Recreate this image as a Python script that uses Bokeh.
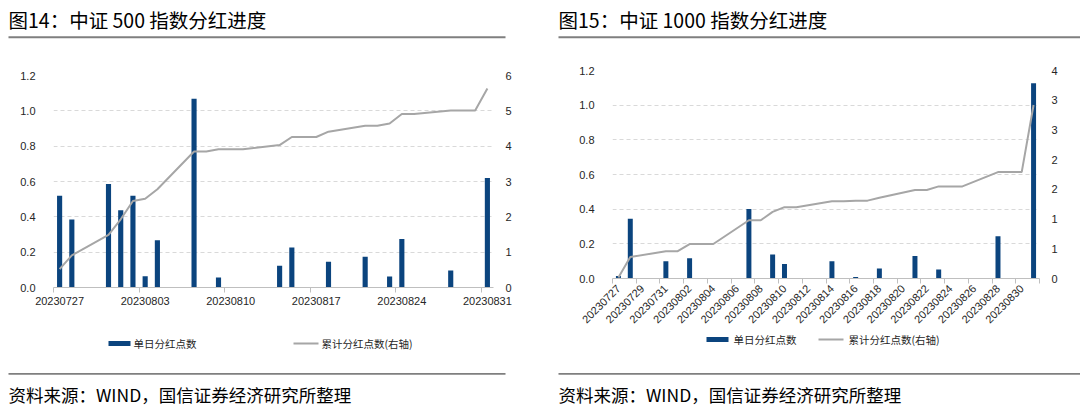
from bokeh.plotting import figure
from bokeh.models import Range1d, LinearAxis, FixedTicker, NumeralTickFormatter
from bokeh.layouts import row, column
from bokeh.core.properties import value
from bokeh.embed import file_html
from bokeh.resources import INLINE
import math

# ---------------- data ----------------
dates = ["20230727", "20230728", "20230729", "20230730", "20230731",
         "20230801", "20230802", "20230803", "20230804", "20230805", "20230806",
         "20230807", "20230808", "20230809", "20230810", "20230811", "20230812",
         "20230813", "20230814", "20230815", "20230816", "20230817", "20230818",
         "20230819", "20230820", "20230821", "20230822", "20230823", "20230824",
         "20230825", "20230826", "20230827", "20230828", "20230829", "20230830",
         "20230831"]

csi500_daily = [0.52, 0.385, 0, 0, 0.586, 0.437, 0.52, 0.064, 0.268, 0, 0,
                1.068, 0, 0.057, 0, 0, 0, 0, 0.123, 0.227, 0, 0, 0.146, 0, 0,
                0.174, 0, 0.062, 0.274, 0, 0, 0, 0.096, 0, 0, 0.62]
csi500_cum = [0.52, 0.91, None, None, 1.49, 1.93, 2.45, 2.51, 2.78, None, None,
              3.85, 3.85, 3.91, 3.91, 3.91, None, None, 4.03, 4.26, 4.26, 4.26,
              4.41, None, None, 4.58, 4.58, 4.64, 4.91, 4.91, None, None,
              5.01, 5.01, 5.01, 5.63]

csi1000_daily = [0.015, 0.344, 0, 0, 0.10, 0, 0.117, 0, 0, 0, 0,
                 0.401, 0, 0.138, 0.083, 0, 0, 0, 0.10, 0, 0.008, 0, 0.058, 0, 0,
                 0.13, 0, 0.052, 0, 0, 0, 0, 0.244, 0, 0, 1.127]
csi1000_cum = [0.015, 0.36, None, None, 0.46, 0.46, 0.58, 0.58, 0.58, None, None,
               0.98, 0.98, 1.12, 1.20, 1.20, None, None, 1.30, 1.30, 1.31, 1.31,
               1.36, None, None, 1.49, 1.49, 1.55, 1.55, 1.55, None, None,
               1.79, 1.79, 1.79, 2.92]

left_ticks = [0.0, 0.2, 0.4, 0.6, 0.8, 1.0, 1.2]
csi500_right_ticks = [0, 1, 2, 3, 4, 5, 6]
csi1000_right_ticks = [0, 0.5, 1.0, 1.5, 2.0, 2.5, 3.0, 3.5]
csi1000_right_labels = ["0", "1", "1", "2", "2", "3", "3", "4"]

titles = ["图14：中证 500 指数分红进度", "图15：中证 1000 指数分红进度"]
source_text = "资料来源：WIND，国信证券经济研究所整理"
bar_name = "单日分红点数"
line_name = "累计分红点数(右轴)"

BAR_COLOR = "#0B447E"
LINE_COLOR = "#A6A6A6"
SEP_COLOR = "#7F7F7F"
CJK = "Noto Sans CJK SC"
NUM = "Liberation Sans"

W = 540
TOP_H = 40
CHART_H = 293
BOT_H = 80


def strip(height):
    s = figure(width=W, height=height, output_backend="svg", toolbar_location=None,
               x_range=Range1d(0, W), y_range=Range1d(height, 0),
               x_axis_type=None, y_axis_type=None, min_border=0,
               min_border_left=0, min_border_right=0, min_border_top=0,
               min_border_bottom=0, title=None, frame_align=False)
    s.outline_line_color = None
    s.background_fill_color = "white"
    s.border_fill_color = "white"
    return s


def make_top(title, x0, sep_right):
    s = strip(TOP_H)
    s.text(x=[x0], y=[19], text=[title], text_font=value(CJK),
           text_font_size=value("19.5px"), text_baseline=value("middle"),
           text_color="#000000")
    s.quad(left=[x0], right=[sep_right], top=[35.8], bottom=[37.8],
           fill_color=SEP_COLOR, line_color=None)
    return s


def make_bottom(x0, sep_right, leg):
    # leg = (bar swatch left, bar text x, line swatch left, line text x, y center)
    bl, btx, ll, ltx, ly = leg
    s = strip(BOT_H)
    s.quad(left=[bl], right=[bl + 22], top=[ly - 2.5], bottom=[ly + 2.5],
           fill_color=BAR_COLOR, line_color=None)
    s.text(x=[btx], y=[ly], text=[bar_name], text_font=value(CJK),
           text_font_size=value("10.5px"), text_baseline=value("middle"),
           text_color="#262626")
    s.segment(x0=[ll], y0=[ly], x1=[ll + 25], y1=[ly], line_color=LINE_COLOR,
              line_width=2)
    s.text(x=[ltx], y=[ly], text=[line_name], text_font=value(CJK),
           text_font_size=value("10.5px"), text_baseline=value("middle"),
           text_color="#262626")
    s.quad(left=[x0], right=[sep_right], top=[39.6], bottom=[41.3],
           fill_color=SEP_COLOR, line_color=None)
    s.text(x=[x0], y=[61], text=[source_text], text_font=value(CJK),
           text_font_size=value("17.5px"), text_baseline=value("middle"),
           text_color="#000000")
    return s


def make_chart(daily, cum, r_max, r_ticks, r_labels, label_step, rotate,
               fl, fr, ft, fb):
    n = len(dates)
    p = figure(width=W, height=CHART_H, output_backend="svg", toolbar_location=None,
               x_range=Range1d(-0.5, n - 0.5), y_range=Range1d(0, 1.2),
               min_border_left=fl, min_border_right=fr,
               min_border_top=ft, min_border_bottom=fb, title=None,
               frame_align=False)
    p.extra_y_ranges = {"cum": Range1d(0, r_max)}
    p.outline_line_color = None
    p.background_fill_color = "white"
    p.border_fill_color = "white"

    bx = [i for i, v in enumerate(daily) if v > 0]
    bt = [daily[i] for i in bx]
    p.vbar(x=bx, top=bt, width=0.42, fill_color=BAR_COLOR, line_color=None)
    lx = [i for i, v in enumerate(cum) if v is not None]
    ly = [cum[i] for i in lx]
    p.line(x=lx, y=ly, y_range_name="cum", line_color=LINE_COLOR, line_width=2)

    p.xgrid.visible = False
    p.ygrid.grid_line_color = "#D9D9D9"
    p.ygrid.grid_line_dash = "4 3"
    p.ygrid.grid_line_width = 1

    xa = p.xaxis[0]
    major = list(range(0, n, label_step))
    minor = [m - 0.5 for m in major]
    if rotate:
        minor = minor + [n - 0.5]
    xa.ticker = FixedTicker(ticks=major, minor_ticks=minor)
    xa.major_label_overrides = {i: dates[i] for i in major}
    xa.major_tick_in = 0
    xa.major_tick_out = 0
    xa.minor_tick_in = 0
    xa.minor_tick_out = 5
    xa.minor_tick_line_color = "#BFBFBF"
    xa.axis_line_color = "#BFBFBF"
    xa.major_label_text_font = NUM
    xa.major_label_text_font_size = "11px"
    xa.major_label_text_color = "#262626"
    if rotate:
        xa.major_label_orientation = math.pi / 4
        xa.major_label_standoff = 3
    else:
        xa.major_label_standoff = 4

    ya = p.yaxis[0]
    ya.ticker = FixedTicker(ticks=left_ticks)
    ya.formatter = NumeralTickFormatter(format="0.0")
    ya.axis_line_color = None
    ya.major_tick_line_color = None
    ya.minor_tick_line_color = None
    ya.major_label_text_font = NUM
    ya.major_label_text_font_size = "11px"
    ya.major_label_text_color = "#262626"
    ya.major_label_standoff = 12

    ra = LinearAxis(y_range_name="cum", ticker=FixedTicker(ticks=r_ticks))
    if r_labels is not None:
        ra.major_label_overrides = {t: l for t, l in zip(r_ticks, r_labels)}
    ra.axis_line_color = None
    ra.major_tick_line_color = None
    ra.minor_tick_line_color = None
    ra.major_label_text_font = NUM
    ra.major_label_text_font_size = "11px"
    ra.major_label_text_color = "#262626"
    ra.major_label_standoff = 6
    p.add_layout(ra, "right")
    return p


# left: CSI 500 (frame x 53..493, y 75..287 in page coords)
c1 = make_chart(csi500_daily, csi500_cum, 6, csi500_right_ticks, None, 7, False,
                53, 47, 75 - TOP_H, TOP_H + CHART_H - 287)
# right: CSI 1000 (frame x 612..1039, y 70..278)
c2 = make_chart(csi1000_daily, csi1000_cum, 3.5, csi1000_right_ticks,
                csi1000_right_labels, 2, True,
                72, 41, 70 - TOP_H, TOP_H + CHART_H - 278)

t1 = make_top(titles[0], 8, 505)
t2 = make_top(titles[1], 18, 540)
b1 = make_bottom(8, 505, (108, 133, 293, 321, 10))
b2 = make_bottom(18, 540, (166, 193, 278, 308, 6))

layout = row(column(t1, c1, b1), column(t2, c2, b2))
with open("out.html", "w") as f:
    f.write(file_html(layout, INLINE))
